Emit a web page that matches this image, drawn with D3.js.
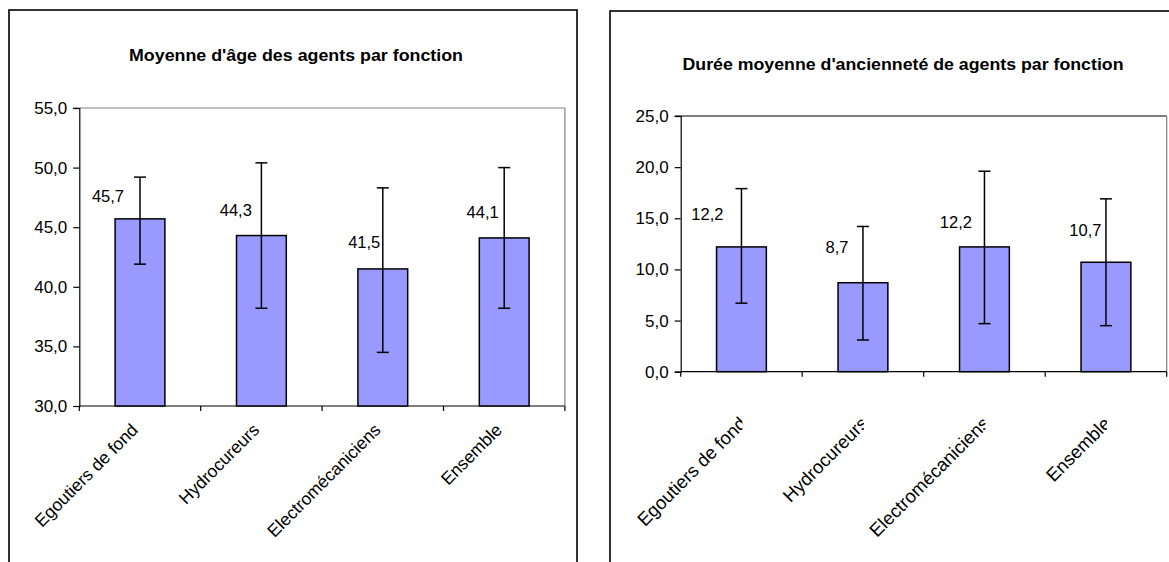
<!DOCTYPE html>
<html>
<head>
<meta charset="utf-8">
<script src="https://cdn.jsdelivr.net/npm/d3@7"></script>
<style>
  html, body { margin: 0; padding: 0; background: #fff; }
  svg { display: block; }
  text { font-family: "Liberation Sans", Arial, sans-serif; fill: #000; }
</style>
</head>
<body>
<svg id="chart" width="1169" height="562"></svg>
<script>
// ---------- DATA ----------
const categories = ["Egoutiers de fond", "Hydrocureurs", "Electromécaniciens", "Ensemble"];

// Chart 1: mean age
const ageTitle = "Moyenne d'âge des agents par fonction";
const ageValues = [45.7, 44.3, 41.5, 44.1];
const ageErrHigh = [49.2, 50.4, 48.3, 50.0];
const ageErrLow = [41.9, 38.2, 34.5, 38.2];
const ageTicks = [30, 35, 40, 45, 50, 55];

// Chart 2: mean seniority
const senTitle = "Durée moyenne d'ancienneté de agents par fonction";
const senValues = [12.2, 8.7, 12.2, 10.7];
const senErrHigh = [17.9, 14.2, 19.6, 16.9];
const senErrLow = [6.7, 3.1, 4.7, 4.5];
const senTicks = [0, 5, 10, 15, 20, 25];

// ---------- LAYOUT ----------
const layouts = [
  {
    title: ageTitle, values: ageValues, hi: ageErrHigh, lo: ageErrLow, ticks: ageTicks,
    box: {x: 9, y: 10, w: 568, h: 600},
    plot: {l: 79.3, r: 564.9, t: 108, b: 406},
    titleX: 296, titleY: 61, titleLen: 334,
    topColor: "#808080",
    labelOff: [[-16, -17], [-9.5, -19.5], [-2.5, -20.5], [-5.5, -19.5]],
    catDx: -1, catDy: 25, catSize: 17.5, clip: false
  },
  {
    title: senTitle, values: senValues, hi: senErrHigh, lo: senErrLow, ticks: senTicks,
    box: {x: 610, y: 11, w: 620, h: 600},
    plot: {l: 680.7, r: 1166.7, t: 116, b: 371.7},
    titleX: 903, titleY: 70, titleLen: 441,
    topColor: "#000",
    labelOff: [[-18, -27], [-14.5, -30], [-12.5, -19], [-4.5, -26]],
    catDx: 6, catDy: 53, catSize: 18.5, clip: true
  }
];

const svg = d3.select("#chart");
const fmt = d => d.toFixed(1).replace(".", ",");

layouts.forEach((L, ci) => {
  const g = svg.append("g");
  const P = L.plot;

  // outer frame
  g.append("rect")
    .attr("x", L.box.x).attr("y", L.box.y)
    .attr("width", L.box.w).attr("height", L.box.h)
    .attr("fill", "none").attr("stroke", "#000").attr("stroke-width", 1.6);

  // title
  g.append("text")
    .attr("x", L.titleX).attr("y", L.titleY)
    .attr("text-anchor", "middle")
    .attr("font-weight", "bold").attr("font-size", 16.5)
    .attr("textLength", L.titleLen).attr("lengthAdjust", "spacingAndGlyphs")
    .text(L.title);

  const y = d3.scaleLinear().domain(d3.extent(L.ticks)).range([P.b, P.t]);
  const x = d3.scaleBand().domain(categories).range([P.l, P.r])
    .paddingInner(0.59).paddingOuter(0.295);
  const step = x.step();

  // plot border (top and right)
  g.append("line").attr("x1", P.l - 6).attr("x2", P.r).attr("y1", P.t).attr("y2", P.t)
    .attr("stroke", L.topColor).attr("stroke-width", 1.2);
  g.append("line").attr("x1", P.r).attr("x2", P.r).attr("y1", P.t).attr("y2", P.b)
    .attr("stroke", "#808080").attr("stroke-width", 1.2);

  // y axis
  const yAxis = d3.axisLeft(y).tickValues(L.ticks).tickSize(6).tickPadding(6).tickFormat(fmt);
  const ya = g.append("g").attr("transform", `translate(${P.l},0)`).call(yAxis);
  ya.select(".domain").attr("stroke", "#000").attr("stroke-width", 1.2);
  ya.selectAll(".tick line").attr("stroke", "#000").attr("stroke-width", 1.2);
  ya.selectAll(".tick text").attr("font-size", 17).attr("font-family", "Liberation Sans, Arial, sans-serif").attr("fill", "#000");

  // x axis line and ticks at band boundaries
  g.append("line").attr("x1", P.l).attr("x2", P.r).attr("y1", P.b).attr("y2", P.b)
    .attr("stroke", "#000").attr("stroke-width", 1.2);
  g.selectAll(".xt").data(d3.range(categories.length + 1)).enter().append("line")
    .attr("x1", i => P.l + i * step).attr("x2", i => P.l + i * step)
    .attr("y1", P.b).attr("y2", P.b + 5)
    .attr("stroke", "#000").attr("stroke-width", 1.2);

  const rows = categories.map((c, i) => ({c, i, v: L.values[i], hi: L.hi[i], lo: L.lo[i]}));

  // bars
  g.selectAll(".bar").data(rows).enter().append("rect")
    .attr("x", d => x(d.c)).attr("width", x.bandwidth())
    .attr("y", d => y(d.v)).attr("height", d => P.b - y(d.v))
    .attr("fill", "#9999FF").attr("stroke", "#000").attr("stroke-width", 1.5);

  // error bars
  const cx = d => x(d.c) + x.bandwidth() / 2;
  g.selectAll(".err").data(rows).enter().append("line")
    .attr("x1", cx).attr("x2", cx).attr("y1", d => y(d.hi)).attr("y2", d => y(d.lo))
    .attr("stroke", "#000").attr("stroke-width", 1.5);
  ["hi", "lo"].forEach(k => {
    g.selectAll(".cap" + k).data(rows).enter().append("line")
      .attr("x1", d => cx(d) - 6).attr("x2", d => cx(d) + 6)
      .attr("y1", d => y(d[k])).attr("y2", d => y(d[k]))
      .attr("stroke", "#000").attr("stroke-width", 1.5);
  });

  // value labels
  g.selectAll(".val").data(rows).enter().append("text")
    .attr("x", d => cx(d) + L.labelOff[d.i][0])
    .attr("y", d => y(d.v) + L.labelOff[d.i][1])
    .attr("text-anchor", "end").attr("font-size", 16.5)
    .text(d => fmt(d.v));

  // category labels (rotated)
  rows.forEach(d => {
    const c = cx(d);
    let holder = g.append("g");
    if (L.clip) {
      const id = `clip${ci}_${d.i}`;
      svg.append("clipPath").attr("id", id).attr("clipPathUnits", "userSpaceOnUse")
        .append("rect").attr("x", c - 200).attr("y", P.b).attr("width", 201).attr("height", 300);
      holder.attr("clip-path", `url(#${id})`);
    }
    holder.append("text")
      .attr("text-anchor", "end").attr("font-size", L.catSize)
      .attr("transform", `translate(${c + L.catDx},${P.b + L.catDy}) rotate(-45)`)
      .text(d.c);
  });
});
</script>
</body>
</html>
